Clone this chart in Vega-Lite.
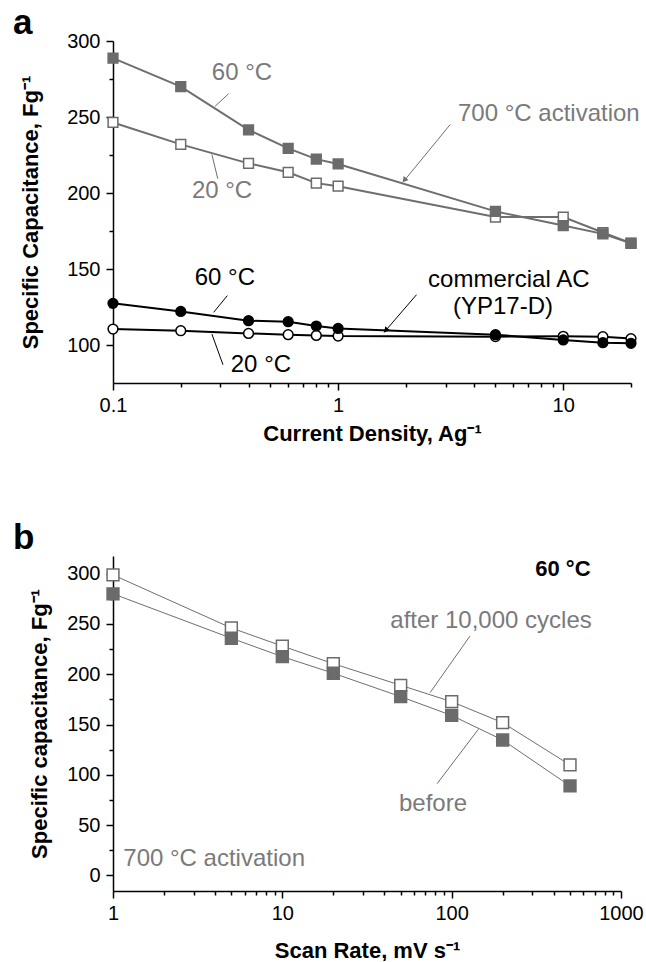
{
  "$schema": "https://vega.github.io/schema/vega-lite/v6.json",
  "background": "white",
  "padding": {"left": 13, "top": 6, "right": 0, "bottom": 0},
  "spacing": 77,
  "config": {
    "font": "Liberation Sans",
    "view": {"stroke": null},
    "axis": {
      "grid": false,
      "domainColor": "black",
      "domainWidth": 1.5,
      "tickColor": "black",
      "tickWidth": 1.5,
      "labelFont": "Liberation Sans",
      "labelFontSize": 20,
      "labelColor": "black",
      "labelFlush": false,
      "labelOverlap": false,
      "titleFont": "Liberation Sans",
      "titleFontSize": 22,
      "titleFontWeight": "bold",
      "titleColor": "black"
    },
    "title": {"font": "Liberation Sans", "color": "black"}
  },
  "datasets": {
    "a_series": [
      {"series": "20 °C activated", "x": 0.1, "y": 246.4},
      {"series": "20 °C activated", "x": 0.2, "y": 232},
      {"series": "20 °C activated", "x": 0.4, "y": 219.5},
      {"series": "20 °C activated", "x": 0.6, "y": 213.6},
      {"series": "20 °C activated", "x": 0.8, "y": 206.5},
      {"series": "20 °C activated", "x": 1, "y": 204.5},
      {"series": "20 °C activated", "x": 5, "y": 184.2},
      {"series": "20 °C activated", "x": 10, "y": 184.2},
      {"series": "20 °C activated", "x": 15, "y": 174},
      {"series": "20 °C activated", "x": 20, "y": 167},
      {"series": "60 °C activated", "x": 0.1, "y": 288.7},
      {"series": "60 °C activated", "x": 0.2, "y": 270},
      {"series": "60 °C activated", "x": 0.4, "y": 241.5},
      {"series": "60 °C activated", "x": 0.6, "y": 229.4},
      {"series": "60 °C activated", "x": 0.8, "y": 222.3},
      {"series": "60 °C activated", "x": 1, "y": 219.1},
      {"series": "60 °C activated", "x": 5, "y": 187.9},
      {"series": "60 °C activated", "x": 10, "y": 178.6},
      {"series": "60 °C activated", "x": 15, "y": 173.1},
      {"series": "60 °C activated", "x": 20, "y": 166.9},
      {"series": "20 °C commercial", "x": 0.1, "y": 110.5},
      {"series": "20 °C commercial", "x": 0.2, "y": 109.4},
      {"series": "20 °C commercial", "x": 0.4, "y": 107.6},
      {"series": "20 °C commercial", "x": 0.6, "y": 106.8},
      {"series": "20 °C commercial", "x": 0.8, "y": 106.3},
      {"series": "20 °C commercial", "x": 1, "y": 105.9},
      {"series": "20 °C commercial", "x": 5, "y": 105.5},
      {"series": "20 °C commercial", "x": 10, "y": 105.7},
      {"series": "20 °C commercial", "x": 15, "y": 105.5},
      {"series": "20 °C commercial", "x": 20, "y": 104.2},
      {"series": "60 °C commercial", "x": 0.1, "y": 127.4},
      {"series": "60 °C commercial", "x": 0.2, "y": 122.1},
      {"series": "60 °C commercial", "x": 0.4, "y": 116},
      {"series": "60 °C commercial", "x": 0.6, "y": 115.3},
      {"series": "60 °C commercial", "x": 0.8, "y": 112.5},
      {"series": "60 °C commercial", "x": 1, "y": 110.9},
      {"series": "60 °C commercial", "x": 5, "y": 106.8},
      {"series": "60 °C commercial", "x": 10, "y": 103.3},
      {"series": "60 °C commercial", "x": 15, "y": 101.5},
      {"series": "60 °C commercial", "x": 20, "y": 101.1}
    ],
    "a_text": [
      {"kind": "activated", "text": "60 °C", "x": 0.374, "y": 278.7},
      {"kind": "activated", "text": "20 °C", "x": 0.305, "y": 201},
      {"kind": "activated", "text": "700 °C activation", "x": 8.63, "y": 251.7},
      {"kind": "commercial", "text": "60 °C", "x": 0.314, "y": 144},
      {"kind": "commercial", "text": "20 °C", "x": 0.454, "y": 87},
      {"kind": "commercial", "text": "commercial AC", "x": 5.73, "y": 143},
      {"kind": "commercial", "text": "(YP17-D)", "x": 5.4, "y": 125.2}
    ],
    "a_lines": [
      {"kind": "activated", "x": 0.284, "y": 257, "x2": 0.326, "y2": 265.3},
      {"kind": "activated", "x": 0.275, "y": 225.3, "x2": 0.292, "y2": 209.4},
      {"kind": "activated", "x": 3.15, "y": 245.1, "x2": 1.94, "y2": 207.1},
      {"kind": "commercial", "x": 0.28, "y": 121.5, "x2": 0.322, "y2": 132.5},
      {"kind": "commercial", "x": 0.275, "y": 107.2, "x2": 0.308, "y2": 87},
      {"kind": "commercial", "x": 2.23, "y": 133.1, "x2": 1.6, "y2": 108.3}
    ],
    "a_arrows": [
      {"kind": "activated", "x": 1.97, "y": 208.5},
      {"kind": "commercial", "x": 1.63, "y": 109.6}
    ],
    "b_series": [
      {"series": "after 10,000 cycles", "x": 1, "y": 298.8},
      {"series": "after 10,000 cycles", "x": 5, "y": 246},
      {"series": "after 10,000 cycles", "x": 10, "y": 228},
      {"series": "after 10,000 cycles", "x": 20, "y": 210.5},
      {"series": "after 10,000 cycles", "x": 50, "y": 189},
      {"series": "after 10,000 cycles", "x": 100, "y": 172.7},
      {"series": "after 10,000 cycles", "x": 200, "y": 151.8},
      {"series": "after 10,000 cycles", "x": 500, "y": 109.8},
      {"series": "before", "x": 1, "y": 280},
      {"series": "before", "x": 5, "y": 235.8},
      {"series": "before", "x": 10, "y": 217.5},
      {"series": "before", "x": 20, "y": 201},
      {"series": "before", "x": 50, "y": 177.7},
      {"series": "before", "x": 100, "y": 159},
      {"series": "before", "x": 200, "y": 134.6},
      {"series": "before", "x": 500, "y": 88.9}
    ],
    "b_text": [
      {"text": "after 10,000 cycles", "x": 170.8, "y": 253},
      {"text": "before", "x": 77.6, "y": 71.4}
    ],
    "b_text_left": [
      {"text": "700 °C activation", "x": 1.15, "y": 16.2}
    ],
    "b_text_bold": [
      {"text": "60 °C", "x": 454, "y": 304.8}
    ],
    "b_lines": [
      {"x": 128.4, "y": 238.1, "x2": 74.6, "y2": 181.7},
      {"x": 143.8, "y": 145.3, "x2": 82, "y2": 91.1}
    ]
  },
  "vconcat": [
    {
      "width": 518,
      "height": 342,
      "title": {"text": "a", "anchor": "start", "frame": "group", "dx": -100, "fontSize": 35, "fontWeight": "bold", "offset": -10},
      "encoding": {
        "x": {
          "field": "x", "type": "quantitative",
          "scale": {"type": "log", "domain": [0.1, 20], "nice": false},
          "axis": {
            "title": "Current Density, Ag⁻¹",
            "values": [0.1, 0.2, 0.3, 0.4, 0.5, 0.6, 0.7, 0.8, 0.9, 1, 2, 3, 4, 5, 6, 7, 8, 9, 10, 20],
            "format": "~g",
            "labelExpr": "indexof([0.1, 1, 10], datum.value) >= 0 ? datum.label : ''",
            "tickSize": {"condition": {"test": "indexof([0.1, 1, 10], datum.value) >= 0", "value": 7}, "value": 4},
            "labelPadding": 5,
            "titlePadding": 8
          }
        },
        "y": {
          "field": "y", "type": "quantitative",
          "scale": {"domain": [75, 300], "nice": false, "zero": false},
          "axis": {
            "title": "Specific Capacitance, Fg⁻¹",
            "values": [100, 125, 150, 175, 200, 225, 250, 275, 300],
            "labelExpr": "datum.value % 50 == 0 ? datum.label : ''",
            "tickSize": {"condition": {"test": "datum.value % 50 == 0", "value": 7}, "value": 4},
            "labelPadding": 6,
            "titlePadding": 24
          }
        }
      },
      "layer": [
        {
          "data": {"name": "a_series"},
          "mark": {"type": "line", "strokeWidth": 2},
          "encoding": {
            "color": {"field": "series", "type": "nominal", "legend": null,
              "scale": {"domain": ["20 °C activated", "60 °C activated", "20 °C commercial", "60 °C commercial"], "range": ["#6e6e6e", "#6e6e6e", "#000000", "#000000"]}}
          }
        },
        {
          "data": {"name": "a_lines"},
          "transform": [{"filter": "datum.kind == 'activated'"}],
          "mark": {"type": "rule", "color": "#6e6e6e", "strokeWidth": 1},
          "encoding": {"x2": {"field": "x2"}, "y2": {"field": "y2"}}
        },
        {
          "data": {"name": "a_lines"},
          "transform": [{"filter": "datum.kind == 'commercial'"}],
          "mark": {"type": "rule", "color": "#000000", "strokeWidth": 1},
          "encoding": {"x2": {"field": "x2"}, "y2": {"field": "y2"}}
        },
        {
          "data": {"name": "a_arrows"},
          "transform": [{"filter": "datum.kind == 'activated'"}],
          "mark": {"type": "point", "shape": "triangle-up", "filled": true, "color": "#6e6e6e", "size": 40, "angle": 219, "opacity": 1}
        },
        {
          "data": {"name": "a_arrows"},
          "transform": [{"filter": "datum.kind == 'commercial'"}],
          "mark": {"type": "point", "shape": "triangle-up", "filled": true, "color": "#000000", "size": 40, "angle": 220, "opacity": 1}
        },
        {
          "data": {"name": "a_series"},
          "mark": {"type": "point", "filled": true, "strokeWidth": 1.5, "size": 95, "opacity": 1},
          "encoding": {
            "shape": {"field": "series", "type": "nominal", "legend": null,
              "scale": {"domain": ["20 °C activated", "60 °C activated", "20 °C commercial", "60 °C commercial"], "range": ["square", "square", "circle", "circle"]}},
            "fill": {"field": "series", "type": "nominal", "legend": null,
              "scale": {"domain": ["20 °C activated", "60 °C activated", "20 °C commercial", "60 °C commercial"], "range": ["#ffffff", "#6b6b6b", "#ffffff", "#000000"]}},
            "stroke": {"field": "series", "type": "nominal", "legend": null,
              "scale": {"domain": ["20 °C activated", "60 °C activated", "20 °C commercial", "60 °C commercial"], "range": ["#6b6b6b", "#6b6b6b", "#000000", "#000000"]}}
          }
        },
        {
          "data": {"name": "a_text"},
          "transform": [{"filter": "datum.kind == 'activated'"}],
          "mark": {"type": "text", "fontSize": 24, "color": "#7a7a7a", "align": "center", "baseline": "middle"},
          "encoding": {"text": {"field": "text"}}
        },
        {
          "data": {"name": "a_text"},
          "transform": [{"filter": "datum.kind == 'commercial'"}],
          "mark": {"type": "text", "fontSize": 24, "color": "#000000", "align": "center", "baseline": "middle"},
          "encoding": {"text": {"field": "text"}}
        }
      ]
    },
    {
      "width": 508,
      "height": 335,
      "title": {"text": "b", "anchor": "start", "frame": "group", "dx": -100, "fontSize": 35, "fontWeight": "bold", "offset": 0},
      "encoding": {
        "x": {
          "field": "x", "type": "quantitative",
          "scale": {"type": "log", "domain": [1, 1000], "nice": false},
          "axis": {
            "title": "Scan Rate, mV s⁻¹",
            "values": [1, 2, 3, 4, 5, 6, 7, 8, 9, 10, 20, 30, 40, 50, 60, 70, 80, 90, 100, 200, 300, 400, 500, 600, 700, 800, 900, 1000],
            "format": "~g",
            "labelExpr": "indexof([1, 10, 100, 1000], datum.value) >= 0 ? datum.label : ''",
            "tickSize": {"condition": {"test": "indexof([1, 10, 100, 1000], datum.value) >= 0", "value": 7}, "value": 4},
            "labelPadding": 5,
            "titlePadding": 17
          }
        },
        "y": {
          "field": "y", "type": "quantitative",
          "scale": {"domain": [-15.6, 317.6], "nice": false, "zero": false},
          "axis": {
            "title": "Specific capacitance, Fg⁻¹",
            "values": [0, 25, 50, 75, 100, 125, 150, 175, 200, 225, 250, 275, 300],
            "labelExpr": "datum.value % 50 == 0 ? datum.label : ''",
            "tickSize": {"condition": {"test": "datum.value % 50 == 0", "value": 7}, "value": 4},
            "labelPadding": 6,
            "titlePadding": 15
          }
        }
      },
      "layer": [
        {
          "data": {"name": "b_series"},
          "mark": {"type": "line", "strokeWidth": 1, "color": "#6e6e6e"},
          "encoding": {"detail": {"field": "series"}}
        },
        {
          "data": {"name": "b_lines"},
          "mark": {"type": "rule", "color": "#6e6e6e", "strokeWidth": 1},
          "encoding": {"x2": {"field": "x2"}, "y2": {"field": "y2"}}
        },
        {
          "data": {"name": "b_series"},
          "mark": {"type": "point", "shape": "square", "filled": true, "strokeWidth": 1.5, "size": 140, "opacity": 1},
          "encoding": {
            "fill": {"field": "series", "type": "nominal", "legend": null,
              "scale": {"domain": ["after 10,000 cycles", "before"], "range": ["#ffffff", "#6b6b6b"]}},
            "stroke": {"field": "series", "type": "nominal", "legend": null,
              "scale": {"domain": ["after 10,000 cycles", "before"], "range": ["#6b6b6b", "#6b6b6b"]}}
          }
        },
        {
          "data": {"name": "b_text"},
          "mark": {"type": "text", "fontSize": 24, "color": "#7a7a7a", "align": "center", "baseline": "middle"},
          "encoding": {"text": {"field": "text"}}
        },
        {
          "data": {"name": "b_text_left"},
          "mark": {"type": "text", "fontSize": 24, "color": "#7a7a7a", "align": "left", "baseline": "middle"},
          "encoding": {"text": {"field": "text"}}
        },
        {
          "data": {"name": "b_text_bold"},
          "mark": {"type": "text", "fontSize": 22, "fontWeight": "bold", "color": "#000000", "align": "center", "baseline": "middle"},
          "encoding": {"text": {"field": "text"}}
        }
      ]
    }
  ]
}
